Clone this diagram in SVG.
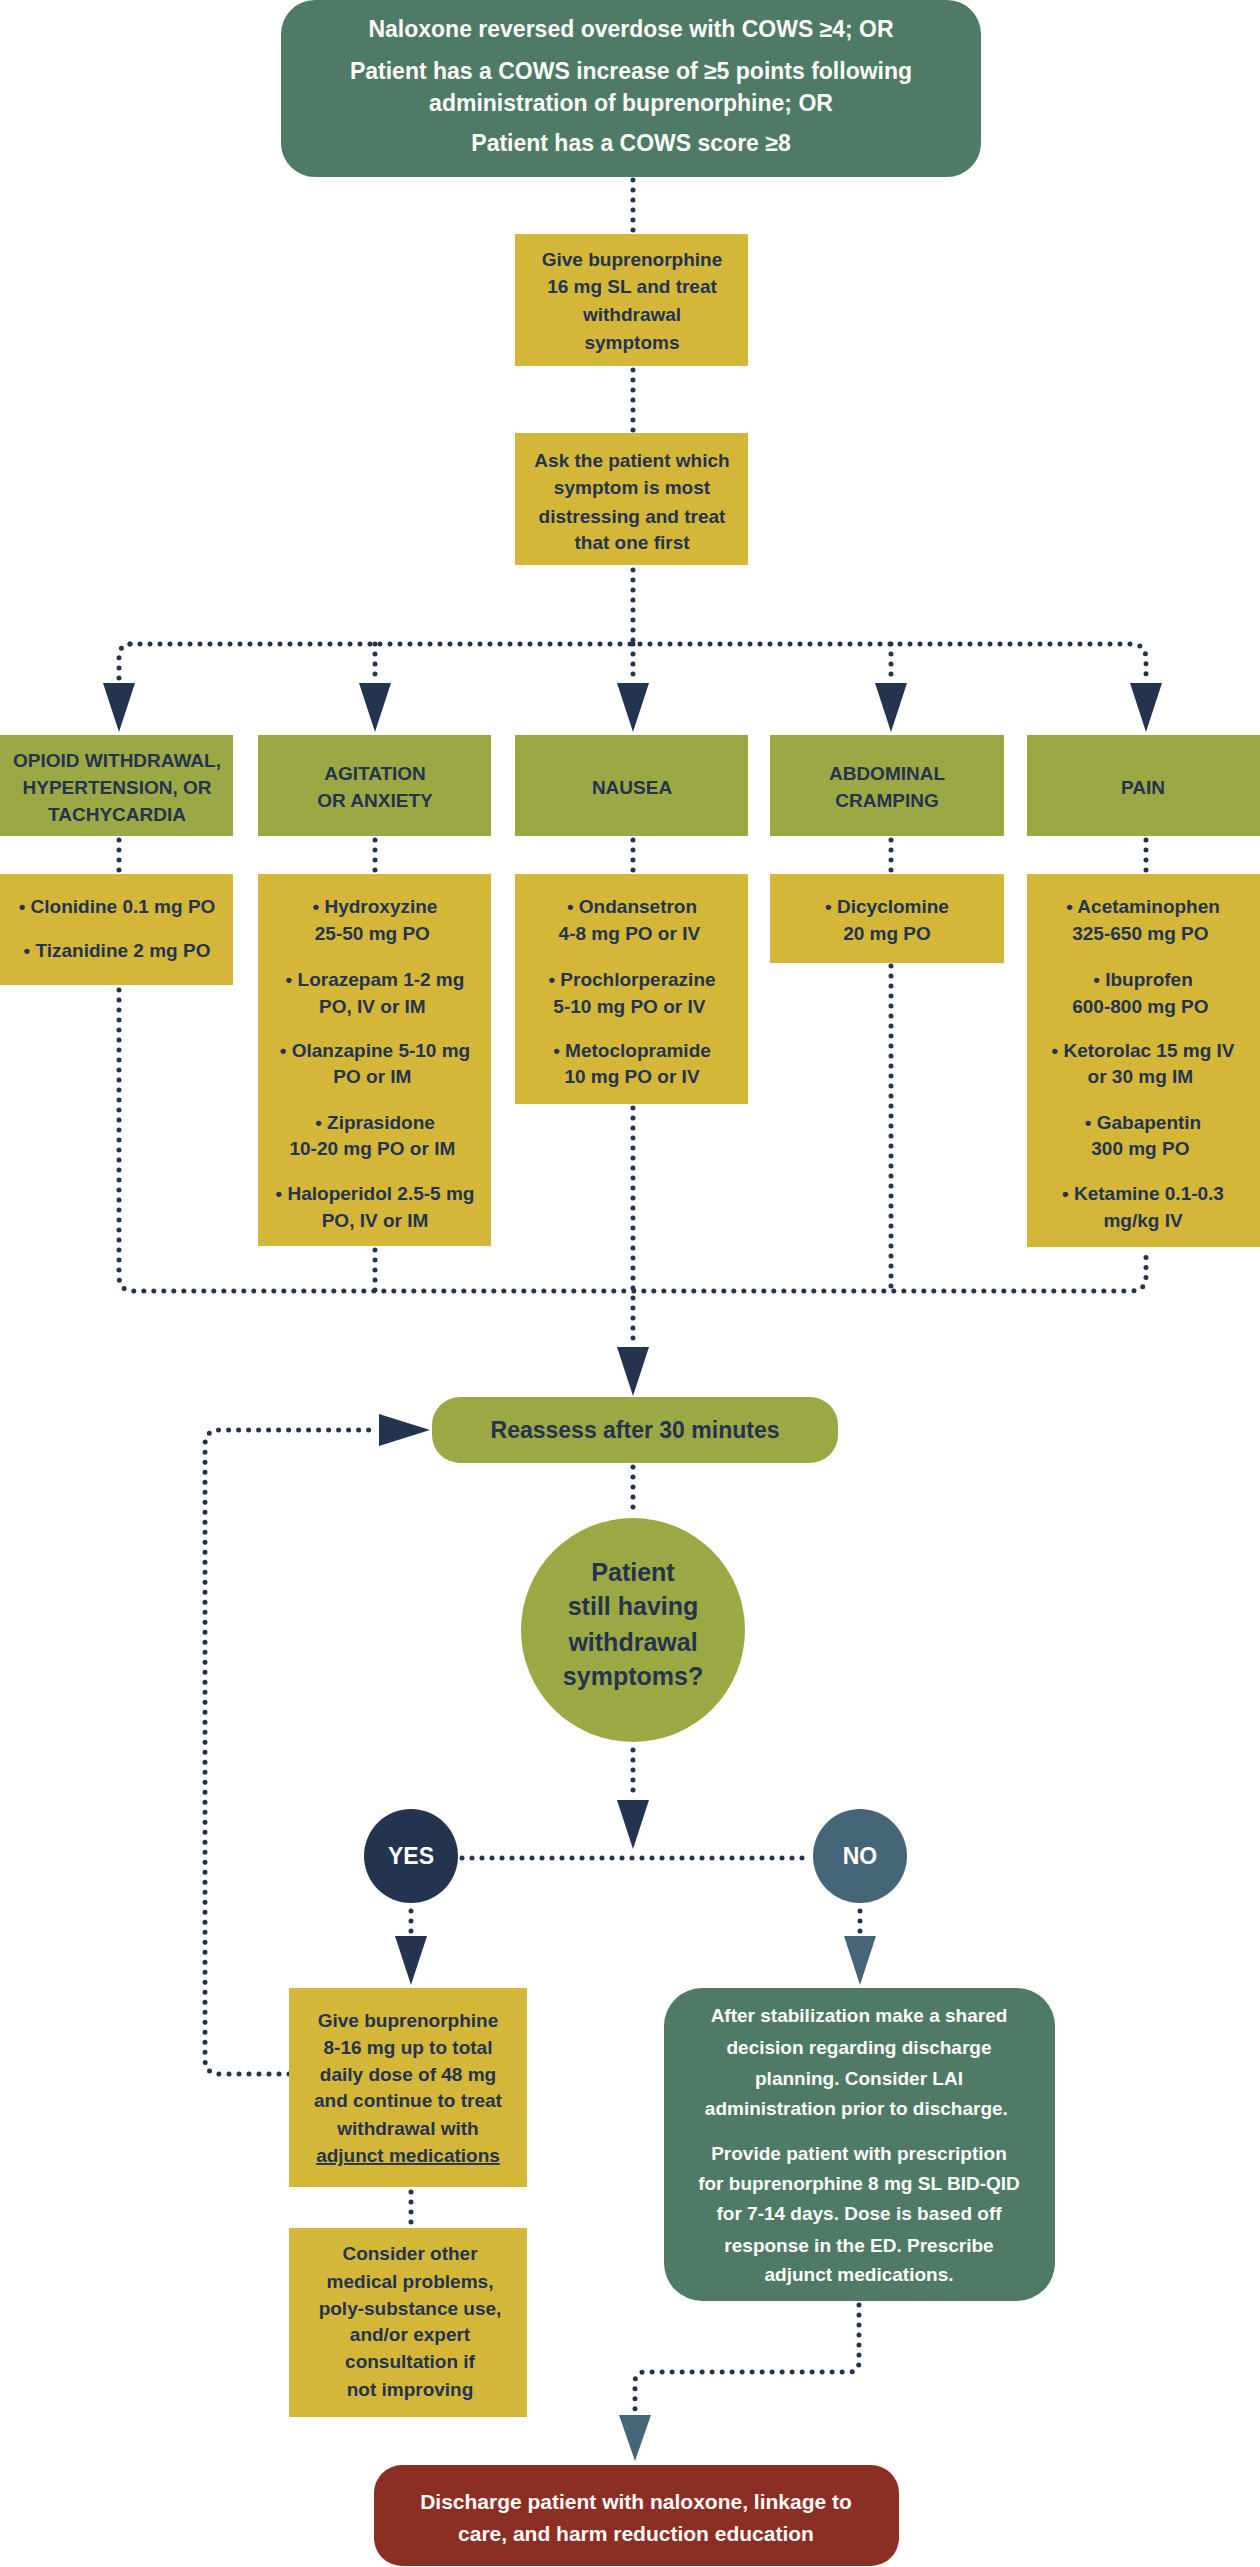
<svg xmlns="http://www.w3.org/2000/svg" width="1260" height="2567" viewBox="0 0 1260 2567">
<defs>
<marker id="ah" viewBox="0 0 32 48" refX="16" refY="48" markerWidth="32" markerHeight="48" markerUnits="userSpaceOnUse" orient="auto-start-reverse"><path d="M0 0 L32 0 L16 48 Z" fill="#24344F"/></marker>
<style>
text{font-family:"Liberation Sans",Arial,sans-serif;font-weight:bold;text-anchor:middle}
.w{fill:#fff}.d{fill:#24344F}
.s19{font-size:19px}.s20{font-size:20px}.s23{font-size:23px}
.dot{fill:none;stroke:#24344F;stroke-width:5;stroke-linecap:round;stroke-dasharray:0 10}
.y{fill:#D4B638}.o{fill:#9CA843}.g{fill:#4E7A66}
</style>
</defs>
<g id="connectors">
<path class="dot" d="M633 180 V232"/>
<path class="dot" d="M633 370 V432"/>
<path class="dot" d="M633 570 V644"/>
<path class="dot" d="M130 644 H1131 Q1146 644 1146 659 V680"/>
<path class="dot" d="M130 644 Q119 644 119 659 V680"/>
<path class="dot" d="M375 644 V680"/><path class="dot" d="M633 644 V680"/><path class="dot" d="M891 644 V680"/>
<path d="M103 683 H135 L119 732 Z M359 683 H391 L375 732 Z M617 683 H649 L633 732 Z M875 683 H907 L891 732 Z M1130 683 H1162 L1146 732 Z" fill="#24344F"/>
<path class="dot" d="M119 840 V872"/><path class="dot" d="M375 840 V872"/><path class="dot" d="M633 840 V872"/><path class="dot" d="M891 840 V872"/><path class="dot" d="M1146 840 V872"/>
<path class="dot" d="M119 990 V1276 Q119 1291 134 1291 H1131 Q1146 1291 1146 1276 V1250"/>
<path class="dot" d="M375 1250 V1291"/><path class="dot" d="M633 1108 V1340"/><path class="dot" d="M891 966 V1291"/>
<path d="M617 1347 H649 L633 1396 Z" fill="#24344F"/>
<path class="dot" d="M289 2074 H220 Q205 2074 205 2059 V1445 Q205 1430 220 1430 H372"/>
<path d="M379 1414 V1446 L430 1430 Z" fill="#24344F"/>
<path class="dot" d="M633 1467 V1512"/>
<path class="dot" d="M633 1750 V1796"/>
<path d="M617 1800 H649 L633 1849 Z" fill="#24344F"/>
<path class="dot" d="M462 1858 H810"/>
<path class="dot" d="M411 1911 V1932"/>
<path d="M395 1936 H427 L411 1985 Z" fill="#24344F"/>
<path class="dot" d="M860 1911 V1932"/>
<path d="M844 1936 H876 L860 1985 Z" fill="#466577"/>
<path class="dot" d="M411 2192 V2224"/>
<path class="dot" d="M859 2305 V2362 Q859 2372 849 2372 H645 Q635 2372 635 2382 V2410"/>
<path d="M619 2415 H651 L635 2461 Z" fill="#466577"/>
</g>
<g id="start"><rect class="g" x="281" y="0" width="700" height="177" rx="34"/>
<text class="w s23" x="631" y="37">Naloxone reversed overdose with COWS ≥4; OR</text>
<text class="w s23" x="631" y="79">Patient has a COWS increase of ≥5 points following</text>
<text class="w s23" x="631" y="111">administration of buprenorphine; OR</text>
<text class="w s23" x="631" y="151">Patient has a COWS score ≥8</text></g>
<g id="give16"><rect class="y" x="515" y="234" width="233" height="132"/>
<text class="d s19"><tspan x="632" y="266">Give buprenorphine</tspan><tspan x="632" y="293">16 mg SL and treat</tspan><tspan x="632" y="321">withdrawal</tspan><tspan x="632" y="349">symptoms</tspan></text></g>
<g id="ask"><rect class="y" x="515" y="433" width="233" height="132"/>
<text class="d s19"><tspan x="632" y="467">Ask the patient which</tspan><tspan x="632" y="494">symptom is most</tspan><tspan x="632" y="523">distressing and treat</tspan><tspan x="632" y="549">that one first</tspan></text></g>
<g id="h1"><rect class="o" x="0" y="735" width="233" height="101"/><text class="d s19"><tspan x="117" y="767">OPIOID WITHDRAWAL,</tspan><tspan x="117" y="794">HYPERTENSION, OR</tspan><tspan x="117" y="821">TACHYCARDIA</tspan></text></g>
<g id="h2"><rect class="o" x="258" y="735" width="233" height="101"/><text class="d s19"><tspan x="375" y="780">AGITATION</tspan><tspan x="375" y="807">OR ANXIETY</tspan></text></g>
<g id="h3"><rect class="o" x="515" y="735" width="233" height="101"/><text class="d s19" x="632" y="794">NAUSEA</text></g>
<g id="h4"><rect class="o" x="770" y="735" width="234" height="101"/><text class="d s19"><tspan x="887" y="780">ABDOMINAL</tspan><tspan x="887" y="807">CRAMPING</tspan></text></g>
<g id="h5"><rect class="o" x="1027" y="735" width="233" height="101"/><text class="d s19" x="1143" y="794">PAIN</text></g>
<g id="m1"><rect class="y" x="0" y="874" width="233" height="111"/><text class="d s19"><tspan x="117" y="913">• Clonidine 0.1 mg PO</tspan><tspan x="117" y="957">• Tizanidine 2 mg PO</tspan></text></g>
<g id="m2"><rect class="y" x="258" y="874" width="233" height="372"/><text class="d s19">
<tspan x="375" y="913">• Hydroxyzine</tspan><tspan x="375" y="940">25-50 mg PO</tspan>
<tspan x="375" y="986">• Lorazepam 1-2 mg</tspan><tspan x="375" y="1013">PO, IV or IM</tspan>
<tspan x="375" y="1057">• Olanzapine 5-10 mg</tspan><tspan x="375" y="1083">PO or IM</tspan>
<tspan x="375" y="1129">• Ziprasidone</tspan><tspan x="375" y="1155">10-20 mg PO or IM</tspan>
<tspan x="375" y="1200">• Haloperidol 2.5-5 mg</tspan><tspan x="375" y="1227">PO, IV or IM</tspan></text></g>
<g id="m3"><rect class="y" x="515" y="874" width="233" height="230"/><text class="d s19">
<tspan x="632" y="913">• Ondansetron</tspan><tspan x="632" y="940">4-8 mg PO or IV</tspan>
<tspan x="632" y="986">• Prochlorperazine</tspan><tspan x="632" y="1013">5-10 mg PO or IV</tspan>
<tspan x="632" y="1057">• Metoclopramide</tspan><tspan x="632" y="1083">10 mg PO or IV</tspan></text></g>
<g id="m4"><rect class="y" x="770" y="874" width="234" height="89"/><text class="d s19"><tspan x="887" y="913">• Dicyclomine</tspan><tspan x="887" y="940">20 mg PO</tspan></text></g>
<g id="m5"><rect class="y" x="1027" y="874" width="233" height="373"/><text class="d s19">
<tspan x="1143" y="913">• Acetaminophen</tspan><tspan x="1143" y="940">325-650 mg PO</tspan>
<tspan x="1143" y="986">• Ibuprofen</tspan><tspan x="1143" y="1013">600-800 mg PO</tspan>
<tspan x="1143" y="1057">• Ketorolac 15 mg IV</tspan><tspan x="1143" y="1083">or 30 mg IM</tspan>
<tspan x="1143" y="1129">• Gabapentin</tspan><tspan x="1143" y="1155">300 mg PO</tspan>
<tspan x="1143" y="1200">• Ketamine 0.1-0.3</tspan><tspan x="1143" y="1227">mg/kg IV</tspan></text></g>
<g id="reassess"><rect class="o" x="432" y="1397" width="406" height="66" rx="28"/><text class="d s23" x="635" y="1438">Reassess after 30 minutes</text></g>
<g id="question"><circle class="o" cx="633" cy="1630" r="112"/><text class="d" font-size="25"><tspan x="633" y="1581">Patient</tspan><tspan x="633" y="1615">still having</tspan><tspan x="633" y="1651">withdrawal</tspan><tspan x="633" y="1685">symptoms?</tspan></text></g>
<g id="yes"><ellipse cx="411" cy="1856" rx="47" ry="47" fill="#24344F"/><text class="w s23" x="411" y="1864">YES</text></g>
<g id="no"><ellipse cx="860" cy="1856" rx="47" ry="47" fill="#466577"/><text class="w s23" x="860" y="1864">NO</text></g>
<g id="give816"><rect class="y" x="289" y="1988" width="238" height="199"/><text class="d s19">
<tspan x="408" y="2027">Give buprenorphine</tspan><tspan x="408" y="2054">8-16 mg up to total</tspan><tspan x="408" y="2081">daily dose of 48 mg</tspan><tspan x="408" y="2107">and continue to treat</tspan><tspan x="408" y="2135">withdrawal with</tspan><tspan x="408" y="2162" text-decoration="underline">adjunct medications</tspan></text></g>
<g id="consider"><rect class="y" x="289" y="2228" width="238" height="189"/><text class="d s19">
<tspan x="410" y="2260">Consider other</tspan><tspan x="410" y="2288">medical problems,</tspan><tspan x="410" y="2315">poly-substance use,</tspan><tspan x="410" y="2341">and/or expert</tspan><tspan x="410" y="2368">consultation if</tspan><tspan x="410" y="2396">not improving</tspan></text></g>
<g id="nobox"><rect class="g" x="664" y="1988" width="391" height="313" rx="38"/><text class="w s19">
<tspan x="859" y="2022">After stabilization make a shared</tspan><tspan x="859" y="2054">decision regarding discharge</tspan><tspan x="859" y="2085">planning. Consider LAI</tspan><tspan x="859" y="2115">administration prior to discharge.</tspan>
<tspan x="859" y="2160">Provide patient with prescription</tspan><tspan x="859" y="2190">for buprenorphine 8 mg SL BID-QID</tspan><tspan x="859" y="2220">for 7-14 days. Dose is based off</tspan><tspan x="859" y="2252">response in the ED. Prescribe</tspan><tspan x="859" y="2281">adjunct medications.</tspan></text></g>
<g id="discharge"><rect x="374" y="2465" width="525" height="101" rx="28" fill="#8B2E24"/><text class="w" font-size="21"><tspan x="636" y="2509">Discharge patient with naloxone, linkage to</tspan><tspan x="636" y="2541">care, and harm reduction education</tspan></text></g>
</svg>
